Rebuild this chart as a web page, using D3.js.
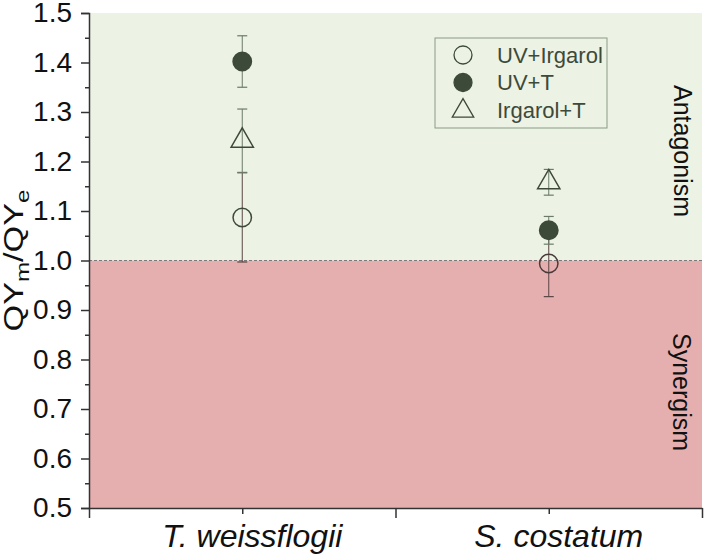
<!DOCTYPE html>
<html>
<head>
<meta charset="utf-8">
<script src="https://cdn.jsdelivr.net/npm/d3@7"></script>
<style>
  body { margin: 0; background: #fff; }
  svg { font-family: "Liberation Sans", Arial, sans-serif; }
</style>
</head>
<body>
<svg id="chart" width="705" height="560"></svg>
<script>
// Categories and series (mean with error)
const species = ["T. weissflogii", "S. costatum"];
const seriesNames = ["UV+Irgarol", "UV+T", "Irgarol+T"];
const uvIrgarol = [1.087, 0.994];
const uvIrgarolErr = [0.09, 0.067];
const uvT = [1.402, 1.061];
const uvTErr = [0.052, 0.028];
const irgarolT = [1.242, 1.158];
const irgarolTErr = [0.064, 0.026];
const yTicks = [0.5, 0.6, 0.7, 0.8, 0.9, 1.0, 1.1, 1.2, 1.3, 1.4, 1.5];

const svg = d3.select("#chart");
const margin = {left: 89, right: 3, top: 13, bottom: 52};
const width = 705 - margin.left - margin.right;
const height = 560 - margin.top - margin.bottom;

const g = svg.append("g").attr("transform", `translate(${margin.left},${margin.top})`);

// x positions: 4 intervals, species sit at 1 and 3
const x = d3.scaleLinear().domain([0, 4]).range([0, width]);
const y = d3.scaleLinear().domain([0.5, 1.5]).range([height, 0]);

// Background regions
g.append("rect").attr("x", 0).attr("y", y(1.5)).attr("width", width)
  .attr("height", y(1.0) - y(1.5)).attr("fill", "#ecf2e4");
g.append("rect").attr("x", 0).attr("y", y(1.0)).attr("width", width)
  .attr("height", y(0.5) - y(1.0)).attr("fill", "#e5afaf");
g.append("line").attr("x1", 0).attr("x2", width).attr("y1", y(1.0)).attr("y2", y(1.0))
  .attr("stroke", "#7a7a7a").attr("stroke-width", 1).attr("stroke-dasharray", "3,2");

// Region labels
g.append("text").attr("transform", `translate(${674 - margin.left},${151 - margin.top}) rotate(90)`)
  .attr("text-anchor", "middle").style("font-size", "25px").attr("fill", "#111").text("Antagonism");
g.append("text").attr("transform", `translate(${673 - margin.left},${392 - margin.top}) rotate(90)`)
  .attr("text-anchor", "middle").style("font-size", "25px").attr("fill", "#111").text("Synergism");

// Y axis
const yAxis = g.append("g")
  .call(d3.axisLeft(y).tickValues(yTicks).tickFormat(d3.format(".1f")).tickSize(8).tickPadding(9));
yAxis.select(".domain").attr("stroke", "#333").attr("stroke-width", 1.5);
yAxis.selectAll(".tick line").attr("stroke", "#333").attr("stroke-width", 1.5);
yAxis.selectAll("text").style("font-size", "28px").attr("fill", "#111");
const yMinor = g.append("g")
  .call(d3.axisLeft(y).tickValues(d3.range(0.55, 1.5, 0.1)).tickFormat("").tickSize(4));
yMinor.select(".domain").remove();
yMinor.selectAll(".tick line").attr("stroke", "#333").attr("stroke-width", 1.5);

// X axis
const xAxis = g.append("g").attr("transform", `translate(0,${height})`)
  .call(d3.axisBottom(x).tickValues([0, 2, 4]).tickFormat("").tickSize(10).tickSizeOuter(0));
xAxis.select(".domain").attr("stroke", "#333").attr("stroke-width", 1.5);
xAxis.selectAll(".tick line").attr("stroke", "#333").attr("stroke-width", 1.5);
const xMinor = g.append("g").attr("transform", `translate(0,${height})`)
  .call(d3.axisBottom(x).tickValues([1, 3]).tickFormat("").tickSize(6));
xMinor.select(".domain").remove();
xMinor.selectAll(".tick line").attr("stroke", "#333").attr("stroke-width", 1.5);

g.selectAll(".species").data(species).enter().append("text")
  .attr("x", (d, i) => x(1 + 2 * i) + 10).attr("y", 547 - margin.top)
  .attr("text-anchor", "middle").style("font-size", "32px").style("font-style", "italic")
  .attr("fill", "#111").text(d => d);

// Y label
const yl = g.append("text").attr("transform", `translate(${23 - margin.left},${y(1.0)}) rotate(-90)`)
  .attr("text-anchor", "middle").style("font-size", "27px").attr("fill", "#111")
  .attr("textLength", 142).attr("lengthAdjust", "spacingAndGlyphs");
yl.append("tspan").text("QY");
yl.append("tspan").attr("dy", 6).style("font-size", "19px").text("m");
yl.append("tspan").attr("dy", -6).text("/QY");
yl.append("tspan").attr("dy", 6).style("font-size", "19px").text("e");

// Series drawing
const errColor = "#6b7b68";
const markColor = "#3d4a3a";
const series = [
  {name: seriesNames[0], vals: uvIrgarol, errs: uvIrgarolErr, shape: "circle", fill: "none"},
  {name: seriesNames[1], vals: uvT, errs: uvTErr, shape: "circle", fill: markColor},
  {name: seriesNames[2], vals: irgarolT, errs: irgarolTErr, shape: "triangle", fill: "none"}
];
const sym = {
  circle: d3.symbol().type(d3.symbolCircle).size(Math.PI * 9.2 * 9.2),
  triangle: d3.symbol().type(d3.symbolTriangle).size(215)
};

series.forEach(s => {
  s.vals.forEach((v, i) => {
    const px = x(1 + 2 * i), e = s.errs[i];
    g.append("line").attr("x1", px).attr("x2", px)
      .attr("y1", y(v - e)).attr("y2", y(v + e))
      .attr("stroke", v - e < 1 ? "#5a4545" : errColor).attr("stroke-width", 1);
    [v - e, v + e].forEach(c => {
      g.append("line").attr("x1", px - 5).attr("x2", px + 5)
        .attr("y1", y(c)).attr("y2", y(c))
        .attr("stroke", c < 1 ? "#5a4545" : errColor).attr("stroke-width", 1.2);
    });
  });
});
series.forEach(s => {
  s.vals.forEach((v, i) => {
    g.append("path").attr("d", sym[s.shape]())
      .attr("transform", `translate(${x(1 + 2 * i)},${y(v)})`)
      .attr("fill", s.fill)
      .attr("stroke", v < 1 ? "#4a3a3a" : markColor).attr("stroke-width", 1.5);
  });
});

// Legend
const lg = svg.append("g").attr("transform", "translate(435,38)");
lg.append("rect").attr("width", 172).attr("height", 90)
  .attr("fill", "none").attr("stroke", "#8a9a86").attr("stroke-width", 1);
series.forEach((s, i) => {
  const ly = 17 + i * 27.5;
  lg.append("path").attr("d", s.shape === "circle"
      ? d3.symbol().type(d3.symbolCircle).size(Math.PI * 9 * 9)()
      : d3.symbol().type(d3.symbolTriangle).size(200)())
    .attr("transform", `translate(28,${ly + (s.shape === "triangle" ? 1 : 0)})`)
    .attr("fill", s.fill)
    .attr("stroke", markColor).attr("stroke-width", 1.3);
  lg.append("text").attr("x", 62).attr("y", ly).attr("dominant-baseline", "central")
    .style("font-size", "22px").attr("fill", "#3d4a3a").text(s.name);
});
</script>
</body>
</html>
